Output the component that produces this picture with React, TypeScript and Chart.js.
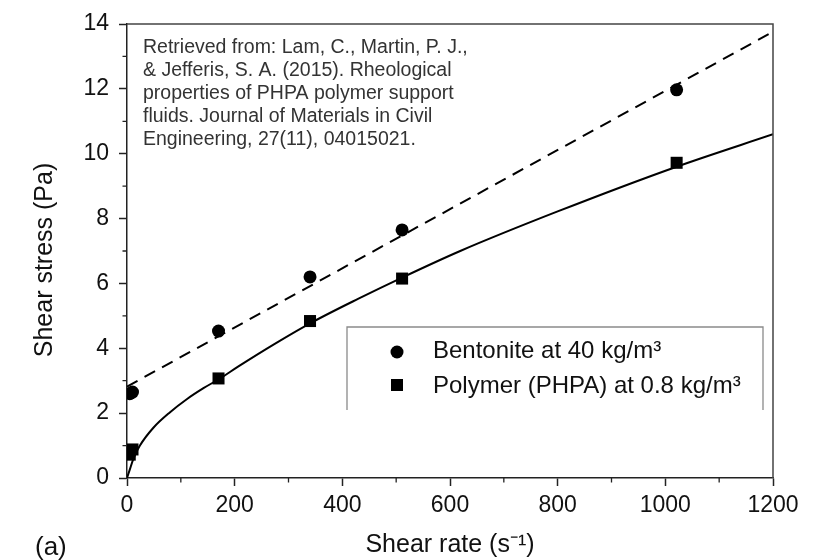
import { useEffect, useRef } from "react";
import Chart from "chart.js/auto";
import type { ChartConfiguration, Plugin } from "chart.js";

const FONT = '"Liberation Sans", Arial, sans-serif';

// measured points (Fann viscometer shear rates)
const shearRates = [5.1, 10.2, 170, 340, 511, 1021];
const bentoniteStress = [2.6, 2.65, 4.53, 6.2, 7.65, 11.97];
const polymerStress = [0.72, 0.88, 3.07, 4.84, 6.15, 9.72];

// fitted curves
const binghamRates = [0, 1200];
const binghamStress = [2.82, 13.76];
const powerLawRates = [0, 5, 12, 24, 49, 80, 111, 142, 173, 207, 276, 346, 430, 511, 619, 800, 1021, 1200];
const powerLawStress = [0, 0.25, 0.6, 1.0, 1.55, 2.03, 2.43, 2.77, 3.07, 3.44, 4.15, 4.82, 5.53, 6.18, 7.0, 8.22, 9.6, 10.6];

const xMajorTicks = [0, 200, 400, 600, 800, 1000, 1200];
const xMinorTicks = [100, 300, 500, 700, 900, 1100];
const yMajorTicks = [0, 2, 4, 6, 8, 10, 12, 14];
const yMinorTicks = [1, 3, 5, 7, 9, 11, 13];

const xTitle = "Shear rate (s⁻¹)";
const yTitle = "Shear stress (Pa)";
const legendLabels = ["Bentonite at 40 kg/m³", "Polymer (PHPA) at 0.8 kg/m³"];
const noteLines = [
  "Retrieved from: Lam, C., Martin, P. J.,",
  "& Jefferis, S. A. (2015). Rheological",
  "properties of PHPA polymer support",
  "fluids. Journal of Materials in Civil",
  "Engineering, 27(11), 04015021.",
];
const panelLabel = "(a)";

const toPoints = (xs: number[], ys: number[]) => xs.map((x, i) => ({ x, y: ys[i] }));

const overlayPlugin: Plugin<"scatter"> = {
  id: "overlay",
  afterDraw(chart) {
    const { ctx, chartArea, scales } = chart;
    const { left, right, top, bottom } = chartArea;
    ctx.save();

    // top and right frame
    ctx.strokeStyle = "#444";
    ctx.lineWidth = 1.5;
    ctx.beginPath();
    ctx.moveTo(left, top);
    ctx.lineTo(right, top);
    ctx.lineTo(right, bottom);
    ctx.stroke();

    // minor ticks
    ctx.strokeStyle = "#222";
    ctx.lineWidth = 1.3;
    ctx.beginPath();
    xMinorTicks.forEach((v) => {
      const px = scales.x.getPixelForValue(v);
      ctx.moveTo(px, bottom);
      ctx.lineTo(px, bottom + 4.5);
    });
    yMinorTicks.forEach((v) => {
      const py = scales.y.getPixelForValue(v);
      ctx.moveTo(left, py);
      ctx.lineTo(left - 4.5, py);
    });
    ctx.stroke();

    // y axis title
    ctx.save();
    ctx.translate(45, 260);
    ctx.rotate(-Math.PI / 2);
    ctx.fillStyle = "#111";
    ctx.font = `25px ${FONT}`;
    ctx.textAlign = "center";
    ctx.textBaseline = "middle";
    ctx.fillText(yTitle, 0, 0);
    ctx.restore();

    // citation note
    ctx.fillStyle = "#333";
    ctx.font = `19.5px ${FONT}`;
    ctx.textAlign = "left";
    ctx.textBaseline = "alphabetic";
    noteLines.forEach((line, i) => ctx.fillText(line, left + 16, top + 29 + i * 23));

    // legend box (open at the bottom)
    const bx0 = left + 220;
    const bx1 = right - 10;
    const by0 = 327;
    const by1 = 410;
    ctx.strokeStyle = "#8a8a8a";
    ctx.lineWidth = 1.3;
    ctx.beginPath();
    ctx.moveTo(bx0, by1);
    ctx.lineTo(bx0, by0);
    ctx.lineTo(bx1, by0);
    ctx.lineTo(bx1, by1);
    ctx.stroke();

    ctx.fillStyle = "#000";
    ctx.beginPath();
    ctx.arc(397, 352, 6.5, 0, Math.PI * 2);
    ctx.fill();
    ctx.fillRect(391, 379, 12, 12);

    ctx.fillStyle = "#111";
    ctx.font = `24px ${FONT}`;
    ctx.fillText(legendLabels[0], 433, 358);
    ctx.fillText(legendLabels[1], 433, 393);

    // panel label
    ctx.font = `26px ${FONT}`;
    ctx.fillText(panelLabel, 35, 555);

    ctx.restore();
  },
};

export default function App() {
  const canvasRef = useRef<HTMLCanvasElement | null>(null);

  useEffect(() => {
    if (!canvasRef.current) return;

    const config: ChartConfiguration<"scatter"> = {
      type: "scatter",
      data: {
        datasets: [
          {
            label: legendLabels[0],
            data: toPoints(shearRates, bentoniteStress),
            pointStyle: "circle",
            pointRadius: 6.5,
            pointBackgroundColor: "#000",
            pointBorderWidth: 0,
            showLine: false,
          },
          {
            label: legendLabels[1],
            data: toPoints(shearRates, polymerStress),
            pointStyle: "rect",
            pointRadius: 8.5,
            pointBackgroundColor: "#000",
            pointBorderWidth: 0,
            showLine: false,
          },
          {
            label: "Bingham fit",
            data: toPoints(binghamRates, binghamStress),
            showLine: true,
            borderColor: "#000",
            borderWidth: 2,
            borderDash: [12, 8],
            pointRadius: 0,
          },
          {
            label: "Power-law fit",
            data: toPoints(powerLawRates, powerLawStress),
            showLine: true,
            borderColor: "#000",
            borderWidth: 2,
            cubicInterpolationMode: "monotone",
            pointRadius: 0,
          },
        ],
      },
      options: {
        responsive: true,
        maintainAspectRatio: false,
        animation: false,
        layout: { padding: { top: 24, right: 67, left: 0, bottom: 0 } },
        plugins: {
          legend: { display: false },
          tooltip: { enabled: false },
        },
        scales: {
          x: {
            type: "linear",
            min: 0,
            max: 1200,
            afterBuildTicks: (scale) => {
              scale.ticks = xMajorTicks.map((value) => ({ value }));
            },
            afterFit: (scale) => {
              scale.height = 82;
            },
            border: { display: true, color: "#222", width: 1.5 },
            grid: {
              drawOnChartArea: false,
              drawTicks: true,
              tickLength: 8,
              tickColor: "#222",
              tickWidth: 1.5,
            },
            ticks: {
              color: "#111",
              font: { family: FONT, size: 23 },
              padding: 6,
              maxRotation: 0,
              callback: (v) => String(v),
            },
            title: {
              display: true,
              text: xTitle,
              color: "#111",
              font: { family: FONT, size: 25 },
              padding: { top: 0, bottom: 0 },
            },
          },
          y: {
            type: "linear",
            min: 0,
            max: 14,
            afterBuildTicks: (scale) => {
              scale.ticks = yMajorTicks.map((value) => ({ value }));
            },
            afterFit: (scale) => {
              scale.width = 127;
            },
            border: { display: true, color: "#222", width: 1.5 },
            grid: {
              drawOnChartArea: false,
              drawTicks: true,
              tickLength: 8,
              tickColor: "#222",
              tickWidth: 1.5,
            },
            ticks: {
              color: "#111",
              font: { family: FONT, size: 23 },
              padding: 10,
              callback: (v) => String(v),
            },
            title: { display: false },
          },
        },
      },
      plugins: [overlayPlugin],
    };

    const chart = new Chart(canvasRef.current, config);
    return () => chart.destroy();
  }, []);

  return (
    <div
      style={{
        position: "fixed",
        left: 0,
        top: 0,
        width: 840,
        height: 560,
        background: "#fff",
      }}
    >
      <canvas ref={canvasRef} />
    </div>
  );
}
